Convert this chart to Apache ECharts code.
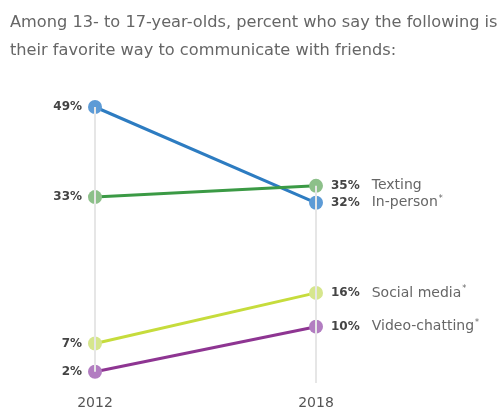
<!DOCTYPE html>
<html>
<head>
<meta charset="utf-8">
<script src="https://cdn.jsdelivr.net/npm/echarts@6/dist/echarts.min.js"></script>
<style>
  html, body { margin: 0; padding: 0; background: #ffffff; }
  #chart { width: 502px; height: 412px; }
</style>
</head>
<body>
<div id="chart"></div>
<script>
// Survey years on the x axis
const years = ['2012', '2018'];

// Share of teens naming each method as their favorite (%)
const seriesNames = ['In-person*', 'Texting', 'Social media*', 'Video-chatting*'];
const inPerson = [49, 32];
const texting = [33, 35];
const socialMedia = [7, 16];
const videoChatting = [2, 10];

// Extent of the thin vertical guide behind each year
const guideTop = [49, 35];
const guideBottom = [2, 0];

const lineColors = ['#2d7cc1', '#3b9a45', '#c6dc3c', '#8e3592'];
const dotColors = ['#5d9bd6', '#8dc08a', '#d6e68d', '#b27dc1'];
const values = [inPerson, texting, socialMedia, videoChatting];

const FONT = 'DejaVu Sans';

const chart = echarts.init(document.getElementById('chart'));

function rightLabel(pct, name) {
  const star = name.endsWith('*');
  const base = star ? name.slice(0, -1) : name;
  return '{v|' + pct + '%}{n|' + base + '}' + (star ? '{s|*}' : '');
}

const lineSeries = values.map((vals, i) => ({
  type: 'line',
  name: seriesNames[i],
  z: 3,
  symbol: 'circle',
  symbolSize: 14,
  lineStyle: { color: lineColors[i], width: 3 },
  itemStyle: { color: dotColors[i] },
  silent: true,
  data: vals.map((v, j) => ({
    value: v,
    label: j === 0 ? {
      show: true,
      position: 'left',
      distance: 6,
      formatter: v + '%',
      fontFamily: FONT,
      fontWeight: 'bold',
      fontSize: 12,
      color: '#444'
    } : {
      show: true,
      position: 'right',
      distance: 8,
      formatter: rightLabel(v, seriesNames[i]),
      rich: {
        v: { fontFamily: FONT, fontWeight: 'bold', fontSize: 12, color: '#444', padding: [0, 12, 0, 0] },
        n: { fontFamily: FONT, fontSize: 14, color: '#666' },
        s: { fontFamily: FONT, fontSize: 8, color: '#666', verticalAlign: 'top', padding: [0, 0, 7, 1] }
      }
    }
  }))
}));

// Vertical guide lines at each year
const guideSeries = {
  type: 'line',
  z: 1,
  data: [],
  silent: true,
  markLine: {
    silent: true,
    symbol: 'none',
    label: { show: false },
    lineStyle: { color: '#e6e6e6', width: 2, type: 'solid' },
    data: years.map((y, j) => [
      { coord: [y, guideTop[j]] },
      { coord: [y, guideBottom[j]] }
    ])
  }
};

chart.setOption({
  animation: false,
  backgroundColor: '#ffffff',
  title: {
    text: 'Among 13- to 17-year-olds, percent who say the following is\ntheir favorite way to communicate with friends:',
    left: 5,
    top: 4,
    textStyle: {
      fontFamily: FONT,
      fontWeight: 'normal',
      fontSize: 16.2,
      lineHeight: 28,
      color: '#666'
    }
  },
  grid: { left: 95, right: 186, top: 107, bottom: 29 },
  xAxis: {
    type: 'category',
    data: years,
    boundaryGap: false,
    axisLine: { show: false },
    axisTick: { show: false },
    splitLine: { show: false },
    axisLabel: {
      margin: 13,
      fontFamily: FONT,
      fontSize: 14,
      color: '#555'
    }
  },
  yAxis: {
    type: 'value',
    min: 0,
    max: 49,
    show: false
  },
  series: [guideSeries].concat(lineSeries)
});
</script>
</body>
</html>
